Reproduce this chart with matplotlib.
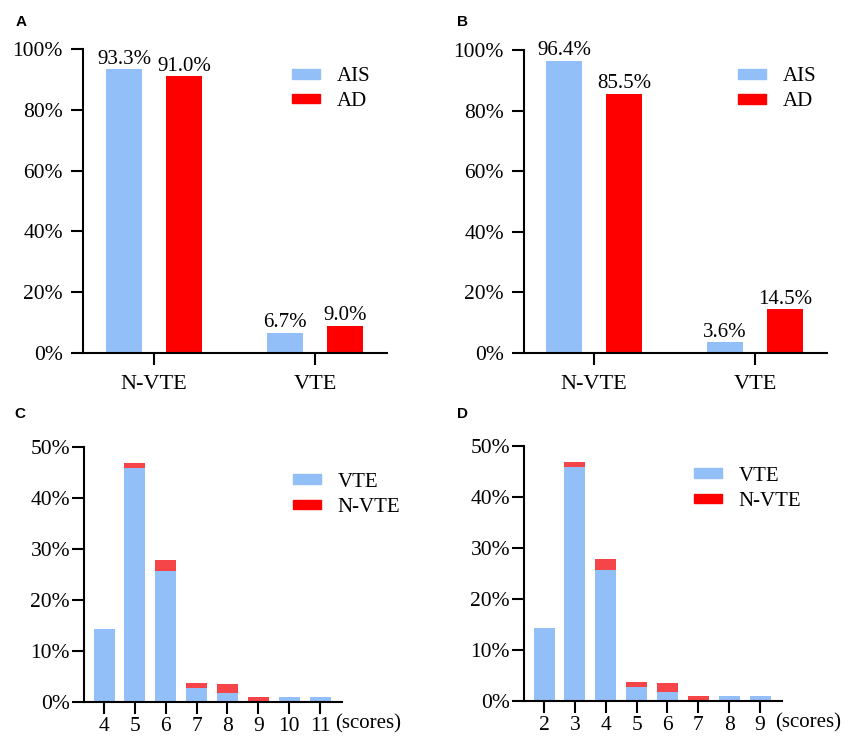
import numpy as np
import matplotlib
matplotlib.use('Agg')
import matplotlib.pyplot as plt
from matplotlib.patches import Patch

plt.rcParams['font.family'] = ['Liberation Serif', 'DejaVu Serif']
plt.rcParams['font.size'] = 15

# Panels A and B: share of N-VTE / VTE by group
groups = ['N-VTE', 'VTE']
a_ais = [93.3, 6.7]
a_ad = [91.0, 9.0]
b_ais = [96.4, 3.6]
b_ad = [85.5, 14.5]

# Panels C and D: score distribution (stacked)
c_scores = ['4', '5', '6', '7', '8', '9', '10', '11']
d_scores = ['2', '3', '4', '5', '6', '7', '8', '9']
vte_share = [14.3, 46.0, 25.8, 2.7, 1.8, 0.0, 0.9, 0.9]
nvte_share = [0.0, 1.0, 2.0, 1.0, 1.8, 0.9, 0.0, 0.0]

blue = '#93BFF8'
red = '#FF0000'
red_stack = '#F64548'

fig = plt.figure(figsize=(8.46, 7.37), dpi=100)


def style_axis(ax, ypad, xpad, xsize):
    for s in ['top', 'right']:
        ax.spines[s].set_visible(False)
    for s in ['left', 'bottom']:
        ax.spines[s].set_linewidth(1.5)
    ax.tick_params(axis='both', width=1.5, length=8.5)
    ax.tick_params(axis='y', pad=ypad, labelsize=15.5)
    ax.tick_params(axis='x', pad=xpad, labelsize=xsize)


def group_panel(rect, ais, ad, xlim, legend_xy):
    ax = fig.add_axes(rect)
    x = np.arange(len(groups))
    ax.bar(x - 0.186, ais, width=0.224, color=blue)
    ax.bar(x + 0.186, ad, width=0.224, color=red)
    for xi, v in zip(x, ais):
        ax.annotate(f'{v:.1f}%', (xi - 0.186, v), xytext=(0, 4), textcoords='offset points',
                    ha='center', va='baseline')
    for xi, v in zip(x, ad):
        ax.annotate(f'{v:.1f}%', (xi + 0.186, v), xytext=(0, 4), textcoords='offset points',
                    ha='center', va='baseline')
    ax.set_xlim(*xlim)
    ax.set_ylim(0, 100)
    ax.set_xticks(x)
    ax.set_xticklabels(groups)
    ax.set_yticks(range(0, 101, 20))
    ax.set_yticklabels([f'{t}%' for t in range(0, 101, 20)])
    style_axis(ax, 6, 7, 16)
    handles = [Patch(color=blue, label='AIS'), Patch(color=red, label='AD')]
    ax.legend(handles=handles, loc='upper left', bbox_to_anchor=legend_xy,
              frameon=False, borderpad=0, handlelength=1.35, handleheight=0.34,
              handletextpad=0.8, labelspacing=0.28, borderaxespad=0)
    return ax


def score_panel(rect, labels, xlim, legend_xy):
    ax = fig.add_axes(rect)
    x = np.arange(len(labels))
    ax.bar(x, vte_share, width=0.68, color=blue)
    ax.bar(x, nvte_share, width=0.68, bottom=vte_share, color=red_stack)
    ax.set_xlim(*xlim)
    ax.set_ylim(0, 50)
    ax.set_xticks(x)
    ax.set_xticklabels(labels)
    ax.set_yticks(range(0, 51, 10))
    ax.set_yticklabels([f'{t}%' for t in range(0, 51, 10)])
    style_axis(ax, 1.5, 2.5, 15.5)
    ax.text(0.972, -0.085, '(scores)', transform=ax.transAxes, ha='left', va='center',
            fontsize=15)
    handles = [Patch(color=blue, label='VTE'), Patch(color=red, label='N-VTE')]
    ax.legend(handles=handles, loc='upper left', bbox_to_anchor=legend_xy,
              frameon=False, borderpad=0, handlelength=1.35, handleheight=0.34,
              handletextpad=0.8, labelspacing=0.3, borderaxespad=0)
    return ax


group_panel([0.0981, 0.521, 0.3593, 0.4125], a_ais, a_ad, (-0.441, 1.447), (0.6875, 0.94))
group_panel([0.6194, 0.521, 0.3582, 0.411], b_ais, b_ad, (-0.435, 1.447), (0.706, 0.943))
score_panel([0.0993, 0.0475, 0.305, 0.3455], c_scores, (-0.648, 7.712), (0.81, 0.90))
score_panel([0.6194, 0.0488, 0.305, 0.3455], d_scores, (-0.648, 7.712), (0.659, 0.92))

for lbl, px, py in [('A', 21, 22), ('B', 463, 22), ('C', 20, 414), ('D', 463, 414)]:
    fig.text(px / 846, 1 - py / 737, lbl, family='Liberation Sans', fontweight='bold',
             fontsize=11, ha='center', va='center')

fig.savefig('out.png', dpi=100)
